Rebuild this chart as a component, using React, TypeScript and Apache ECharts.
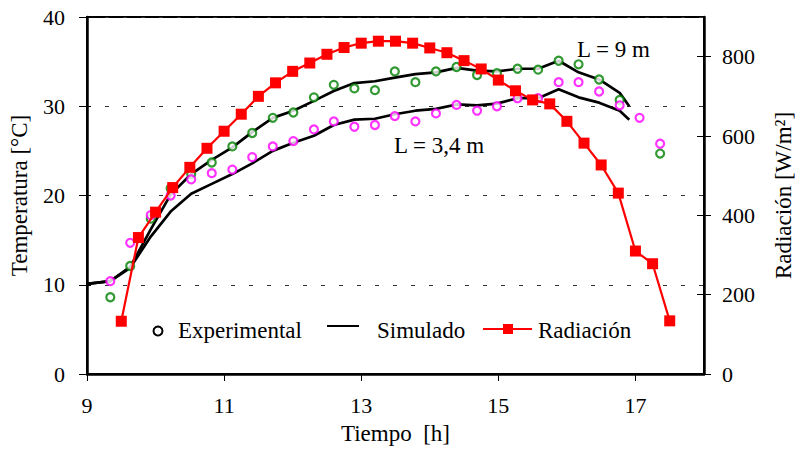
import React, { useEffect, useRef } from "react";
import * as echarts from "echarts";

const xTickValues = [9, 11, 13, 15, 17];
const radTickValues = [0, 200, 400, 600, 800];

const expTimes = [
  9.34, 9.63, 9.93, 10.22, 10.52, 10.82, 11.12, 11.41, 11.71, 12.01, 12.31, 12.6, 12.9, 13.2,
  13.49, 13.79, 14.09, 14.39, 14.69, 14.98, 15.28, 15.58, 15.88, 16.17, 16.47, 16.77, 17.06, 17.36,
];
const expL9 = [
  8.6, 12.1, 17.4, 20.8, 22.4, 23.7, 25.5, 27.0, 28.7, 29.3, 31.0, 32.4, 32.0, 31.8,
  33.9, 32.7, 33.9, 34.4, 33.5, 33.7, 34.2, 34.1, 35.1, 34.7, 33.0, 30.7, null, 24.7,
];
const expL34 = [
  10.4, 14.7, 17.8, 20.0, 21.8, 22.5, 22.9, 24.3, 25.5, 26.1, 27.4, 28.3, 27.7, 27.9,
  28.9, 28.3, 29.2, 30.15, 29.5, 30.0, 30.9, 30.9, 32.7, 32.7, 31.65, 30.1, 28.7, 25.8,
];

const simTimes = [
  9.0, 9.34, 9.63, 9.93, 10.22, 10.52, 10.82, 11.12, 11.41, 11.71, 12.01, 12.31, 12.6, 12.9,
  13.2, 13.49, 13.79, 14.09, 14.39, 14.69, 14.98, 15.28, 15.58, 15.88, 16.17, 16.47, 16.77, 16.91,
];
const simL9 = [
  10.1, 10.4, 12.0, 16.2, 20.1, 22.4, 24.0, 25.4, 27.1, 28.7, 29.5, 30.6, 31.7, 32.6,
  32.8, 33.2, 33.6, 33.8, 34.3, 34.0, 33.9, 34.2, 34.2, 35.1, 33.8, 33.0, 31.5, 30.0,
];
const simL34 = [
  10.1, 10.4, 11.9, 15.4, 18.2, 20.2, 21.3, 22.4, 23.6, 25.0, 25.9, 26.7, 27.9, 28.5,
  28.6, 29.1, 29.5, 29.7, 30.2, 30.1, 30.3, 30.9, 30.9, 31.9, 31.0, 30.4, 29.5, 28.5,
];

const radTimes = [
  9.5, 9.75, 10.0, 10.25, 10.5, 10.75, 11.0, 11.25, 11.5, 11.75, 12.0, 12.25, 12.5, 12.75, 13.0,
  13.25, 13.5, 13.75, 14.0, 14.25, 14.5, 14.75, 15.0, 15.25, 15.5, 15.75, 16.0, 16.25, 16.5,
  16.75, 17.0, 17.25, 17.5,
];
const radValues = [
  133, 344, 408, 470, 521, 569, 612, 655, 700, 734, 763, 784, 806, 823, 834,
  839, 839, 834, 822, 810, 790, 769, 741, 714, 691, 681, 637, 582, 527,
  456, 310, 278, 134,
];

const pairs = (xs: number[], ys: (number | null)[]) =>
  xs.map((x, i) => [x, ys[i]]).filter((p) => p[1] !== null);

const FONT = "'Liberation Serif', 'Times New Roman', serif";

export default function App() {
  const ref = useRef<HTMLDivElement>(null);
  useEffect(() => {
    if (!ref.current) return;
    const chart = echarts.init(ref.current, null, { renderer: "svg" });
    const txt = { color: "#000", fontFamily: FONT, fontSize: 22 };
    chart.setOption({
      animation: false,
      backgroundColor: "#fff",
      textStyle: { fontFamily: FONT, color: "#000" },
      grid: {
        left: 86, top: 17, width: 628, height: 357,
        show: true, borderColor: "#000", borderWidth: 2, backgroundColor: "transparent",
      },
      xAxis: {
        type: "value", min: 9, max: 18,
        name: "Tiempo\u00a0 [h]", nameLocation: "middle", nameGap: 48,
        nameTextStyle: { ...txt, fontSize: 23 },
        axisLine: { show: true, lineStyle: { color: "#000", width: 2.5 } },
        axisTick: { show: true, inside: false, length: 7, customValues: xTickValues, lineStyle: { color: "#000", width: 1 } },
        axisLabel: { ...txt, margin: 20, customValues: xTickValues },
        splitLine: { show: false },
      },
      yAxis: [
        {
          type: "value", min: 0, max: 40, interval: 10, position: "left",
          name: "Temperatura [°C]", nameLocation: "middle", nameGap: 56,
          nameTextStyle: { ...txt, fontSize: 23 },
          axisLine: { show: true, lineStyle: { color: "#000", width: 2.5 } },
          axisTick: { show: true, inside: false, length: 8, lineStyle: { color: "#000", width: 1 } },
          axisLabel: { ...txt, margin: 22 },
          splitLine: { show: true, lineStyle: { color: "#333", width: 1, type: [4, 14] } },
        },
        {
          type: "value", min: 0, max: 900, position: "right",
          name: "Radiación [W/m²]", nameLocation: "middle", nameGap: 68, nameRotate: 90,
          nameTextStyle: { ...txt, fontSize: 23 },
          axisLine: { show: true, lineStyle: { color: "#000", width: 2.5 } },
          axisTick: { show: true, inside: false, length: 7, customValues: radTickValues, lineStyle: { color: "#000", width: 1 } },
          axisLabel: { ...txt, margin: 18, customValues: radTickValues },
          splitLine: { show: false },
        },
        {
          type: "value", min: 0, max: 40, interval: 10, position: "left",
          axisLine: { show: false },
          axisTick: { show: true, inside: true, length: 4, lineStyle: { color: "#000", width: 1 } },
          axisLabel: { show: false },
          splitLine: { show: false },
        },
        {
          type: "value", min: 0, max: 900, position: "right",
          axisLine: { show: false },
          axisTick: { show: true, inside: true, length: 7, customValues: radTickValues, lineStyle: { color: "#000", width: 1 } },
          axisLabel: { show: false },
          splitLine: { show: false },
        },
      ],
      series: [
        {
          name: "Simulado L = 9 m", type: "line", yAxisIndex: 0, data: pairs(simTimes, simL9),
          showSymbol: false, symbol: "none", lineStyle: { color: "#000", width: 2.7 }, z: 2,
        },
        {
          name: "Simulado L = 3,4 m", type: "line", yAxisIndex: 0, data: pairs(simTimes, simL34),
          showSymbol: false, symbol: "none", lineStyle: { color: "#000", width: 2.7 }, z: 2,
        },
        {
          name: "Experimental L = 9 m", type: "scatter", yAxisIndex: 0, data: pairs(expTimes, expL9),
          symbol: "circle", symbolSize: 8,
          itemStyle: { color: "#fff", borderColor: "#008000", borderWidth: 2.2 }, z: 3,
        },
        {
          name: "Experimental L = 3,4 m", type: "scatter", yAxisIndex: 0, data: pairs(expTimes, expL34),
          symbol: "circle", symbolSize: 8,
          itemStyle: { color: "#fff", borderColor: "#ff00ff", borderWidth: 2.2 }, z: 3,
        },
        {
          name: "Radiación", type: "line", yAxisIndex: 1, data: pairs(radTimes, radValues),
          symbol: "rect", symbolSize: 11, showSymbol: true,
          lineStyle: { color: "#ff0000", width: 2.2 },
          itemStyle: { color: "#ff0000", borderColor: "#ff0000", borderWidth: 0 }, z: 4,
        },
      ],
      graphic: [
        { type: "circle", shape: { cx: 158, cy: 331, r: 4.5 }, style: { fill: "#fff", stroke: "#000", lineWidth: 2 }, z: 10 },
        { type: "text", style: { text: "Experimental", x: 178, y: 330, verticalAlign: "middle", font: `23px ${FONT}`, fill: "#000" }, z: 10 },
        { type: "line", shape: { x1: 327, y1: 326, x2: 359, y2: 326 }, style: { stroke: "#000", lineWidth: 2 }, z: 10 },
        { type: "text", style: { text: "Simulado", x: 377, y: 330, verticalAlign: "middle", font: `23px ${FONT}`, fill: "#000" }, z: 10 },
        { type: "line", shape: { x1: 483, y1: 329, x2: 532, y2: 329 }, style: { stroke: "#ff0000", lineWidth: 2.2 }, z: 10 },
        { type: "rect", shape: { x: 503, y: 324, width: 10, height: 10 }, style: { fill: "#ff0000" }, z: 10 },
        { type: "text", style: { text: "Radiación", x: 538, y: 330, verticalAlign: "middle", font: `23px ${FONT}`, fill: "#000" }, z: 10 },
        { type: "text", style: { text: "L = 9 m", x: 577, y: 49, verticalAlign: "middle", font: `23px ${FONT}`, fill: "#000" }, z: 10 },
        { type: "text", style: { text: "L = 3,4 m", x: 394, y: 145, verticalAlign: "middle", font: `23px ${FONT}`, fill: "#000" }, z: 10 },
      ],
    });
    return () => chart.dispose();
  }, []);
  return (
    <div
      ref={ref}
      style={{ position: "fixed", left: 0, top: 0, width: 803, height: 450, background: "#fff" }}
    />
  );
}
